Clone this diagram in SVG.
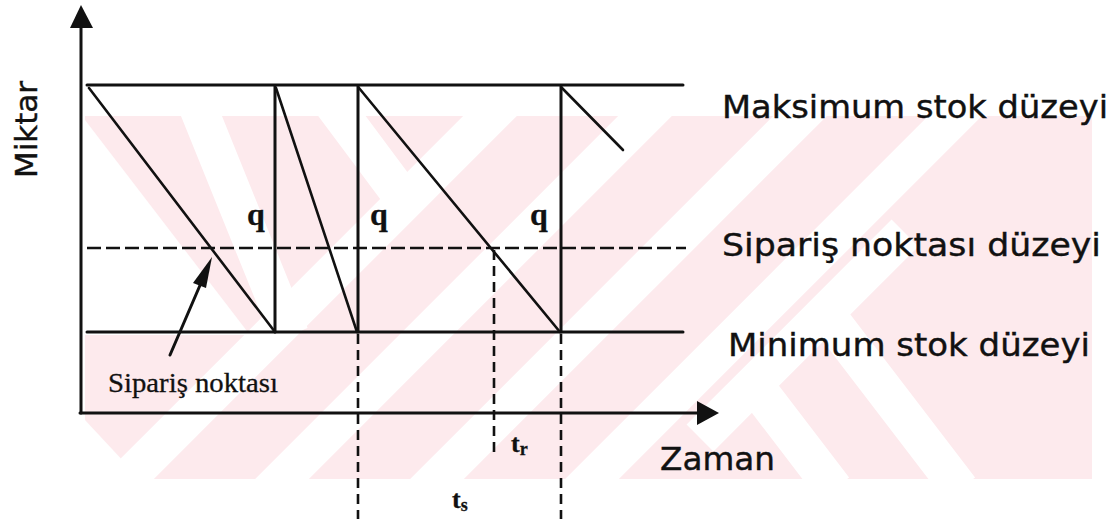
<svg xmlns="http://www.w3.org/2000/svg" width="1120" height="519" viewBox="0 0 1120 519">
<style>
.ln{stroke:#111;stroke-width:3;fill:none;stroke-linecap:round}
.dg{stroke:#111;stroke-width:2.6;fill:none;stroke-linecap:round}
.dh{stroke:#111;stroke-width:2.6;fill:none;stroke-dasharray:14 5}
.dv{stroke:#111;stroke-width:2.6;fill:none;stroke-dasharray:10 6}
.ws{stroke:#fff;stroke-width:38;fill:none}
.sans{font-family:"DejaVu Sans",Verdana,sans-serif;fill:#111;stroke:#111;stroke-width:0.4}
.serif{font-family:"Liberation Serif","Times New Roman",serif;fill:#111;stroke:#111;stroke-width:0.3}
</style>
<defs>
<clipPath id="wm"><rect x="85" y="116" width="1007" height="363"/></clipPath>
</defs>
<rect width="1120" height="519" fill="#fff"/>
<g id="watermark" clip-path="url(#wm)">
<rect x="85" y="116" width="1007" height="363" fill="#fdeaed"/>
<path class="ws" d="M40 566L650 -44M200 561L810 -49M355 561L965 -49M510 561L1120 -49"/>
<path class="ws" d="M195 100L290 335M330 100L412 210"/>
<path class="ws" d="M823 310L960 489M753 383L834 489M700 438L905 233"/>
<polygon fill="#fff" points="85,120 250,335 85,335"/>
<polygon fill="#fff" points="85,420 85,479 140,479"/>
</g>
<g id="axes">
<line class="ln" x1="81" y1="26" x2="81" y2="413"/>
<polygon points="81,5 70,28 93,28" fill="#111"/>
<line class="ln" x1="80" y1="413" x2="700" y2="413"/>
<polygon points="719,413 697,401 697,425" fill="#111"/>
</g>
<g id="levels">
<line class="ln" x1="87" y1="85" x2="683" y2="85"/>
<line class="dh" x1="87" y1="248" x2="686" y2="248"/>
<line class="ln" x1="87" y1="332" x2="683" y2="332"/>
</g>
<g id="sawtooth">
<line class="dg" x1="89" y1="88" x2="275" y2="332"/>
<line class="ln" x1="275" y1="86" x2="275" y2="332"/>
<line class="dg" x1="276" y1="88" x2="357" y2="332"/>
<line class="ln" x1="358" y1="86" x2="358" y2="332"/>
<line class="dg" x1="359" y1="88" x2="560" y2="332"/>
<line class="ln" x1="561" y1="86" x2="561" y2="332"/>
<line class="dg" x1="562" y1="88" x2="623" y2="150"/>
</g>
<g id="connectors">
<line class="dv" x1="358" y1="334" x2="358" y2="519"/>
<line class="dv" x1="561" y1="334" x2="561" y2="519"/>
<line class="dv" x1="494" y1="250" x2="494" y2="455"/>
<line x1="170" y1="355" x2="204" y2="276" stroke="#111" stroke-width="3" stroke-linecap="round"/>
<polygon points="212,257 193,283 206,288" fill="#111"/>
</g>
<g id="labels">
<text class="sans" x="37" y="129.5" font-size="31" text-anchor="middle" transform="rotate(-90 37 129.5)">Miktar</text>
<text class="sans" x="722" y="118" font-size="32" textLength="386" lengthAdjust="spacingAndGlyphs">Maksimum stok düzeyi</text>
<text class="sans" x="722" y="256" font-size="32" textLength="379" lengthAdjust="spacingAndGlyphs">Sipariş noktası düzeyi</text>
<text class="sans" x="728" y="356" font-size="32" textLength="362" lengthAdjust="spacingAndGlyphs">Minimum stok düzeyi</text>
<text class="sans" x="660" y="470" font-size="32" textLength="115" lengthAdjust="spacingAndGlyphs">Zaman</text>
<text class="serif" x="108" y="392" font-size="28" textLength="170" lengthAdjust="spacingAndGlyphs">Sipariş noktası</text>
<text class="serif" x="247" y="225" font-size="32" font-weight="bold">q</text>
<text class="serif" x="370" y="225" font-size="32" font-weight="bold">q</text>
<text class="serif" x="530" y="225" font-size="32" font-weight="bold">q</text>
<text class="serif" x="511" y="452" font-size="26" font-weight="bold">t<tspan font-size="18" dy="3">r</tspan></text>
<text class="serif" x="452" y="508" font-size="26" font-weight="bold">t<tspan font-size="18" dy="3">s</tspan></text>
</g>
</svg>
